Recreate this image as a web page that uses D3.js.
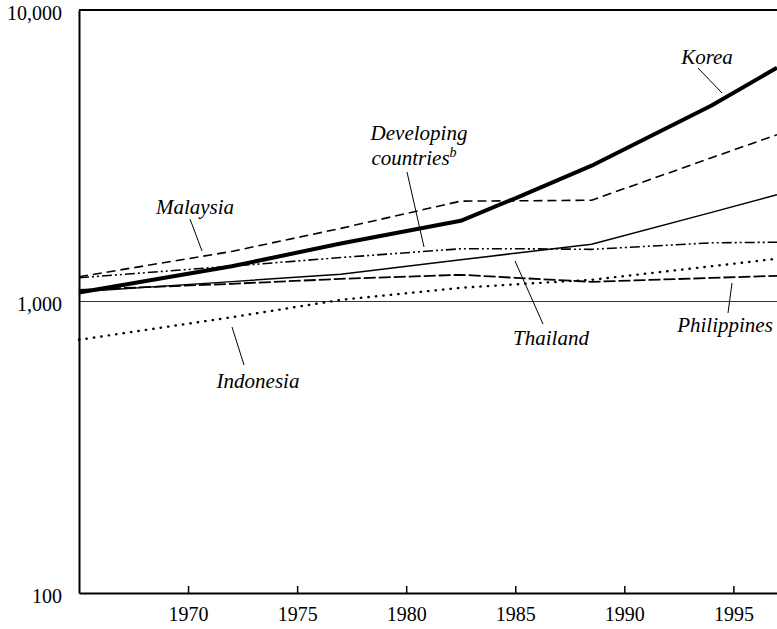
<!DOCTYPE html>
<html><head><meta charset="utf-8">
<script src="https://cdn.jsdelivr.net/npm/d3@7"></script>
<style>body{margin:0;background:#fff}svg{display:block}</style>
</head><body><svg id="c" width="777" height="629"></svg>
<script>
// ---- data ----
const years = [1965, 1972, 1977, 1982.5, 1985, 1988.5, 1994, 1997];
const korea = [1074, 1321, 1581, 1892, 2260, 2923, 4700, 6340];
const malaysia = [1216, 1485, 1782, 2210, 2215, 2225, 3114, 3733];
const developing = [1206, 1322, 1415, 1517, 1517, 1510, 1590, 1597];
const thailand = [1080, 1170, 1240, 1390, 1464, 1572, 2022, 2324];
const philippines = [1097, 1150, 1196, 1235, 1206, 1168, 1205, 1225];
const indonesia = [739, 883, 1013, 1114, 1145, 1187, 1321, 1402];
const xTicks = [1970, 1975, 1980, 1985, 1990, 1995];
const yTicks = [100, 1000, 10000];

const seriesList = [
  {name: "Indonesia", values: indonesia, width: 2.4, dash: "0.4,7.1", cap: "round"},
  {name: "Philippines", values: philippines, width: 1.8, dash: "12,3", cap: "butt"},
  {name: "Thailand", values: thailand, width: 1.5, dash: null, cap: "butt"},
  {name: "Developing", values: developing, width: 1.6, dash: "10,3,2,3,2,3", cap: "butt"},
  {name: "Malaysia", values: malaysia, width: 1.6, dash: "9,5", cap: "butt"},
  {name: "Korea", values: korea, width: 4, dash: null, cap: "butt"}
];

const svg = d3.select("#c");
const font = "'Liberation Serif','Times New Roman',serif";
const x = d3.scaleLinear().domain([1965, 1997]).range([79, 777]);
const y = d3.scaleLog().domain([100, 10000]).range([593, 10]);

// reference line at 1,000
svg.append("line")
  .attr("x1", x(1965)).attr("x2", x(1997))
  .attr("y1", y(1000)).attr("y2", y(1000))
  .attr("stroke", "#333").attr("stroke-width", 1);

// top frame line
svg.append("line")
  .attr("x1", x(1965)).attr("x2", x(1997))
  .attr("y1", y(10000)).attr("y2", y(10000))
  .attr("stroke", "#000").attr("stroke-width", 2);

// bottom axis
const gx = svg.append("g").attr("transform", `translate(0,${y(100)})`)
  .call(d3.axisBottom(x).tickValues(xTicks).tickFormat(d3.format("d"))
    .tickSizeInner(-7).tickSizeOuter(0).tickPadding(14));
gx.select(".domain").attr("stroke-width", 2);
gx.selectAll(".tick line").attr("stroke-width", 1.5);
gx.selectAll("text").attr("font-family", font).attr("font-size", 20).attr("fill", "#000");

// left axis
const gy = svg.append("g").attr("transform", `translate(${x(1965)},0)`)
  .call(d3.axisLeft(y).tickValues(yTicks).tickFormat(d3.format(","))
    .tickSize(0).tickPadding(17));
gy.select(".domain").attr("stroke-width", 2);
gy.selectAll("text").attr("font-family", font).attr("font-size", 20)
  .attr("fill", "#000").attr("dy", "0.45em");

// lines
const line = d3.line().x((d, i) => x(years[i])).y(d => y(d));
svg.selectAll("path.series").data(seriesList).join("path")
  .attr("class", "series")
  .attr("d", s => line(s.values))
  .attr("fill", "none").attr("stroke", "#000")
  .attr("stroke-width", s => s.width)
  .attr("stroke-dasharray", s => s.dash)
  .attr("stroke-linecap", s => s.cap)
  .attr("stroke-linejoin", "round");

// annotations
const labels = [
  {t: "Korea", x: 707, y: 64},
  {t: "Developing", x: 419, y: 140},
  {t: "Malaysia", x: 195, y: 214},
  {t: "Thailand", x: 551, y: 345},
  {t: "Philippines", x: 725, y: 332},
  {t: "Indonesia", x: 258, y: 388}
];
const g = svg.append("g").attr("font-family", font).attr("font-style", "italic")
  .attr("font-size", 21).attr("text-anchor", "middle");
labels.forEach(l => g.append("text").attr("x", l.x).attr("y", l.y).text(l.t));
const ct = g.append("text").attr("x", 414).attr("y", 165);
ct.append("tspan").text("countries");
ct.append("tspan").attr("font-size", 14).attr("dy", -8).text("b");

const leaders = [
  [698, 68, 722, 93],
  [407, 172, 424, 247],
  [190, 219, 202, 251],
  [515, 261, 543, 324],
  [732, 283, 728, 313],
  [232, 327, 244, 365]
];
svg.selectAll("line.leader").data(leaders).join("line").attr("class", "leader")
  .attr("x1", d => d[0]).attr("y1", d => d[1]).attr("x2", d => d[2]).attr("y2", d => d[3])
  .attr("stroke", "#000").attr("stroke-width", 1);
</script></body></html>
